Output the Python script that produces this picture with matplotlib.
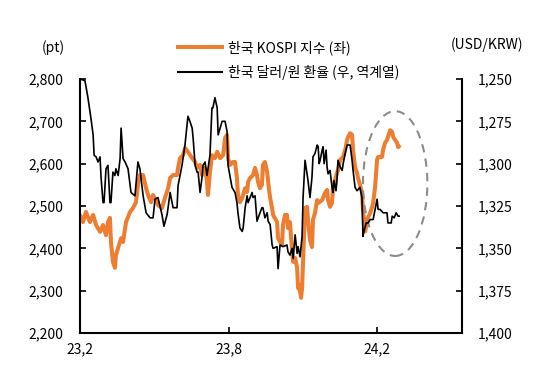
import numpy as np
import matplotlib
matplotlib.use('Agg')
import matplotlib.pyplot as plt
from matplotlib.patches import Ellipse
from matplotlib.lines import Line2D

plt.rcParams['font.family'] = ['Noto Sans CJK KR', 'DejaVu Sans']

# x: 2023년 2월 기준 경과 개월 수
kospi_m = [0.00, 0.12, 0.24, 0.40, 0.53, 0.65, 0.81, 0.93, 1.05, 1.13, 1.21, 1.25, 1.33, 1.41,
           1.45, 1.54, 1.66, 1.74, 1.86, 2.02, 2.14, 2.26, 2.34, 2.42, 2.55, 2.67, 2.75, 2.87,
           2.95, 3.07, 3.15, 3.31, 3.43, 3.56, 3.64, 3.76, 3.92, 3.96, 4.04, 4.16, 4.24, 4.36,
           4.53, 4.65, 4.73, 4.85, 4.93, 5.05, 5.13, 5.17, 5.25, 5.33, 5.45, 5.54, 5.66, 5.78,
           5.86, 5.94, 5.98, 6.06, 6.18, 6.26, 6.34, 6.38, 6.46, 6.55, 6.67, 6.75, 6.79, 6.87,
           6.99, 7.07, 7.15, 7.19, 7.27, 7.35, 7.39, 7.47, 7.56, 7.60, 7.68, 7.76, 7.80, 7.96,
           8.00, 8.08, 8.16, 8.20, 8.28, 8.36, 8.40, 8.48, 8.57, 8.61, 8.69, 8.77, 8.81, 8.85,
           8.89, 8.93, 8.97, 9.01, 9.09, 9.17, 9.21, 9.29, 9.37, 9.41, 9.49, 9.58, 9.62, 9.78,
           9.90, 9.98, 10.02, 10.10, 10.18, 10.22, 10.30, 10.38, 10.42, 10.51, 10.63, 10.71,
           10.79, 10.83, 10.91, 10.99, 11.03, 11.11, 11.19, 11.23, 11.31, 11.39, 11.43, 11.52,
           11.60, 11.64, 11.72, 11.80, 11.84, 11.92, 12.00, 12.04, 12.20, 12.24, 12.32, 12.40,
           12.44, 12.53, 12.61, 12.65, 12.73, 12.81, 12.85, 12.93]
kospi = [2479, 2462, 2486, 2462, 2479, 2455, 2439, 2455, 2431, 2462, 2472, 2415, 2368, 2354,
         2384, 2401, 2424, 2415, 2462, 2486, 2495, 2509, 2550, 2573, 2573, 2542, 2526, 2509,
         2526, 2514, 2502, 2495, 2519, 2542, 2566, 2573, 2573, 2590, 2613, 2620, 2637, 2628,
         2613, 2604, 2590, 2597, 2573, 2590, 2557, 2526, 2580, 2620, 2613, 2628, 2613, 2620,
         2661, 2668, 2613, 2597, 2604, 2604, 2566, 2526, 2509, 2519, 2542, 2533, 2557, 2566,
         2573, 2590, 2573, 2557, 2542, 2550, 2597, 2604, 2580, 2557, 2519, 2495, 2479, 2462,
         2424, 2415, 2408, 2455, 2479, 2479, 2448, 2462, 2391, 2368, 2377, 2354, 2306, 2313,
         2297, 2283, 2306, 2368, 2495, 2498, 2467, 2420, 2403, 2467, 2483, 2514, 2507, 2514,
         2531, 2538, 2514, 2498, 2507, 2545, 2561, 2578, 2585, 2609, 2616, 2632,
         2656, 2663, 2672, 2668, 2632, 2592, 2578, 2566, 2550, 2531, 2491, 2440,
         2467, 2474, 2483, 2498, 2507, 2545, 2609, 2616, 2616, 2632, 2649, 2656,
         2663, 2679, 2675, 2663, 2656, 2649, 2639, 2644]

fx_m = [0.00, 0.20, 0.32, 0.44, 0.53, 0.57, 0.65, 0.73, 0.81, 0.85, 0.93, 0.97, 1.05, 1.13,
        1.21, 1.25, 1.33, 1.41, 1.45, 1.54, 1.62, 1.66, 1.74, 1.82, 1.94, 2.06, 2.22, 2.34,
        2.42, 2.55, 2.67, 2.83, 2.95, 3.03, 3.15, 3.31, 3.39, 3.52, 3.64, 3.72, 3.76, 3.92,
        3.96, 4.12, 4.24, 4.36, 4.44, 4.53, 4.57, 4.65, 4.73, 4.77, 4.85, 4.93, 4.97, 5.05,
        5.13, 5.25, 5.33, 5.37, 5.45, 5.54, 5.58, 5.66, 5.74, 5.86, 5.94, 5.98, 6.14, 6.26,
        6.34, 6.38, 6.46, 6.55, 6.59, 6.67, 6.75, 6.79, 6.87, 6.95, 6.99, 7.07, 7.15, 7.27,
        7.35, 7.39, 7.47, 7.56, 7.60, 7.68, 7.76, 7.80, 7.96, 8.00, 8.08, 8.20, 8.36, 8.40,
        8.48, 8.57, 8.61, 8.69, 8.77, 8.81, 8.89, 8.97, 9.01, 9.09, 9.17, 9.21, 9.29, 9.37,
        9.41, 9.49, 9.58, 9.62, 9.66, 9.70, 9.78, 9.82, 9.86, 9.94, 9.98, 10.02, 10.10,
        10.18, 10.22, 10.26, 10.34, 10.38, 10.42, 10.51, 10.59, 10.63, 10.71, 10.79, 10.91,
        10.99, 11.03, 11.11, 11.19, 11.31, 11.39, 11.43, 11.47, 11.56, 11.64, 11.72, 11.84,
        11.92, 12.00, 12.04, 12.12, 12.24, 12.40, 12.44, 12.57, 12.61, 12.69, 12.77, 12.85,
        12.89]
fx = [1250, 1251, 1261, 1273, 1283, 1295, 1296, 1299, 1296, 1308, 1323, 1323, 1303, 1301,
      1323, 1323, 1305, 1307, 1303, 1307, 1297, 1279, 1297, 1299, 1303, 1317, 1319, 1299,
      1303, 1319, 1329, 1332, 1332, 1321, 1320, 1330, 1337, 1330, 1317, 1323, 1326, 1326,
      1313, 1301, 1289, 1272, 1275, 1279, 1285, 1301, 1305, 1305, 1317, 1308, 1301, 1299,
      1307, 1295, 1267, 1267, 1261, 1267, 1283, 1279, 1275, 1275, 1281, 1301, 1314, 1317,
      1323, 1329, 1338, 1340, 1338, 1326, 1319, 1323, 1320, 1317, 1320, 1319, 1334, 1329,
      1326, 1326, 1332, 1329, 1334, 1336, 1348, 1350, 1349, 1362, 1348, 1349, 1348, 1352,
      1354, 1350, 1356, 1342, 1353, 1349, 1355, 1343, 1320, 1298, 1306, 1310, 1320, 1308,
      1296, 1294, 1289, 1290, 1300, 1298, 1292, 1290, 1300, 1292, 1302, 1306, 1304,
      1314, 1317, 1310, 1316, 1310, 1298, 1302, 1304, 1300, 1294, 1289, 1289,
      1298, 1304, 1314, 1316, 1314, 1320, 1343, 1340, 1335, 1335, 1333, 1333,
      1327, 1321, 1327, 1327, 1329, 1329, 1335, 1335, 1331, 1332, 1329, 1331,
      1331]

x_ticks = [0, 6, 12]
x_labels = ['23,2', '23,8', '24,2']
left_ticks = [2200, 2300, 2400, 2500, 2600, 2700, 2800]
right_ticks = [1250, 1275, 1300, 1325, 1350, 1375, 1400]

orange = '#ED7D31'
fs = 10

fig = plt.figure(figsize=(5.54, 3.68), dpi=100)
ax = fig.add_axes([80 / 554, 35 / 368, 382 / 554, 254 / 368])
ax2 = ax.twinx()

ax.plot(kospi_m, kospi, color=orange, lw=2.9, solid_capstyle='butt', zorder=2)
ax2.plot(fx_m, fx, color='black', lw=1.2, zorder=3)

# 점선 타원 (최근 구간 강조)
ell = Ellipse((12.73, 2553), 2.6, 342, fill=False, edgecolor='#8c8c8c',
              lw=1.5, linestyle=(0, (4, 3)), zorder=4)
ax.add_patch(ell)

ax.set_xlim(0, 15.43)
ax.set_ylim(2200, 2800)
ax2.set_ylim(1400, 1250)

ax.set_xticks(x_ticks)
ax.set_xticklabels(x_labels)
ax.set_yticks(left_ticks)
ax.set_yticklabels([f'{v:,}' for v in left_ticks])
ax2.set_yticks(right_ticks)
ax2.set_yticklabels([f'{v:,}' for v in right_ticks])

for a in (ax, ax2):
    a.spines['top'].set_visible(False)
    for s in a.spines.values():
        s.set_linewidth(1.5)
ax.spines['right'].set_visible(False)
ax2.spines['left'].set_visible(False)
ax2.spines['bottom'].set_visible(False)

ax.tick_params(axis='y', direction='in', length=4, width=1.2, pad=12, labelsize=fs)
ax.tick_params(axis='x', direction='in', length=4, width=1.2, pad=7, labelsize=fs)
ax2.tick_params(axis='y', direction='in', length=4, width=1.2, pad=11, labelsize=fs)

fig.text(53 / 554, 1 - 48 / 368, '(pt)', ha='center', va='center', fontsize=fs)
fig.text(487 / 554, 1 - 45 / 368, '(USD/KRW)', ha='center', va='center', fontsize=fs)

handles = [Line2D([], [], color=orange, lw=2.9),
           Line2D([], [], color='black', lw=1.5)]
labels = ['한국 KOSPI 지수 (좌)', '한국 달러/원 환율 (우, 역계열)']
ax2.legend(handles, labels, loc='upper left', bbox_to_anchor=(178 / 554, 1 - 40 / 368),
           bbox_transform=fig.transFigure, frameon=False, fontsize=fs, borderpad=0,
           borderaxespad=0, handlelength=3.2, handletextpad=0.4, labelspacing=0.75)

fig.savefig('out.png', dpi=100)
